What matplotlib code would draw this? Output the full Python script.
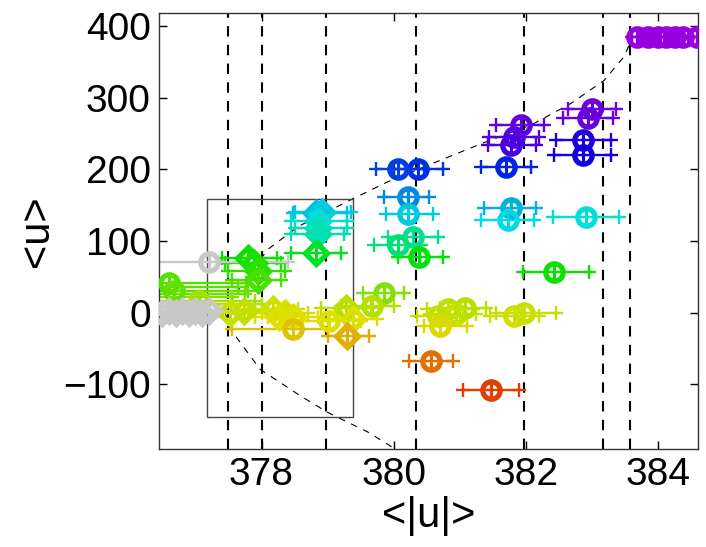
import colorsys
import matplotlib
matplotlib.use("Agg")
import matplotlib.pyplot as plt
from matplotlib.patches import Rectangle

plt.rcParams['font.family'] = ['Liberation Sans', 'DejaVu Sans']

# ---- data ----
# point positions <|u|>, <u>, horizontal error extent, hue (None = gray), marker kind
pt_x = [383.67, 383.85, 384.0, 384.12, 384.25, 384.38, 384.58,
        383.0, 382.94, 382.86, 382.86, 381.92, 381.82, 381.77, 381.7,
        380.06, 380.36, 380.21, 380.21, 381.77, 381.73, 382.91,
        380.29, 380.06, 380.38, 382.42, 379.85, 379.67,
        380.67, 380.82, 380.94, 381.08, 380.7, 381.82, 381.97,
        380.56, 381.47,
        378.82, 378.92, 378.86, 378.86, 378.86, 378.82,
        377.8, 377.88, 377.94, 377.94,
        377.2, 376.6, 376.67, 377.05, 376.2, 376.2, 376.2, 376.2,
        377.53, 377.73, 378.18, 378.36, 378.26, 378.48,
        378.47, 379.02, 379.27, 379.39, 379.3,
        376.5, 376.6, 376.7, 376.8, 376.9, 377.0, 377.1, 377.2]
pt_y = [384, 384, 384, 384, 384, 384, 384,
        284, 272, 241, 220, 262, 245, 234, 203,
        200, 200, 162, 138, 146, 130, 134,
        106, 95, 78, 57, 28, 9,
        -5, 5, -2, 7, -19, -5, 0,
        -68, -108,
        139, 141, 128, 118, 110, 83,
        77, 70, 58, 46,
        71, 42, 31, 16, 36, 26, 22, 12,
        0, 2, 5, 0, -6, -6,
        -23, -12, 7, -9, -33,
        0, 2, 0, 2, 0, 2, 0, 2]
err_lo = [383.6, 383.77, 383.92, 384.04, 384.17, 384.3, 384.5,
          382.64, 382.56, 382.45, 382.42, 381.55, 381.44, 381.42, 381.32,
          379.73, 380.0, 379.85, 379.88, 381.36, 381.32, 382.41,
          379.91, 379.7, 380.06, 381.95, 379.53, 379.2,
          380.35, 380.5, 380.55, 380.7, 380.45, 381.45, 381.55,
          380.23, 381.05,
          378.47, 378.5, 378.45, 378.5, 378.45, 378.44,
          377.41, 377.45, 377.5, 377.55,
          376.2, 375.9, 375.9, 376.2, 375.5, 375.5, 375.5, 375.5,
          377.2, 377.35, 377.8, 378.0, 377.9, 378.1,
          377.56, 378.62, 378.9, 379.0, 379.0,
          376.3, 376.4, 376.5, 376.6, 376.7, 376.8, 376.9, 377.0]
err_hi = [383.75, 383.93, 384.08, 384.2, 384.33, 384.46, 384.66,
          383.36, 383.32, 383.29, 383.29, 382.27, 382.2, 382.15, 382.08,
          380.45, 380.74, 380.53, 380.59, 382.15, 382.12, 383.41,
          380.67, 380.41, 380.74, 382.95, 380.15, 380.0,
          381.0, 381.2, 381.25, 381.4, 381.1, 382.2, 382.45,
          380.89, 381.9,
          379.3, 379.35, 379.3, 379.3, 379.25, 379.2,
          378.24, 378.3, 378.35, 378.3,
          378.4, 377.76, 377.8, 377.9, 377.65, 377.75, 377.55, 378.0,
          377.9, 378.1, 378.55, 378.7, 378.6, 378.85,
          379.0, 379.5, 379.65, 379.75, 379.62,
          376.7, 376.8, 376.9, 377.0, 377.1, 377.2, 377.3, 377.4]
pt_yerr = [10] * 74
pt_hue = [0.78] * 7 + [
          0.75, 0.745, 0.69, 0.68, 0.74, 0.73, 0.72, 0.64,
          0.62, 0.63, 0.565, 0.517, 0.535, 0.505, 0.495,
          0.44, 0.42, 0.34, 0.325, 0.236, 0.2,
          0.185, 0.19, 0.185, 0.195, 0.16, 0.18, 0.185,
          0.083, 0.047,
          0.525, 0.515, 0.49, 0.476, 0.458, 0.36,
          0.325, 0.315, 0.3, 0.28,
          None, 0.27, 0.26, 0.21, 0.265, 0.25, 0.235, 0.2,
          0.185, 0.19, 0.18, 0.175, 0.167, 0.167,
          0.143, 0.167, 0.195, 0.17, 0.13] + [None] * 8
pt_kind = (['circle'] * 37 + ['diamond'] * 10 + ['circle'] * 8 +
           ['diamond'] * 6 + ['circle', 'circle', 'diamond', 'diamond', 'diamond'] +
           ['diamond'] * 8)

# reference lines
vlines_x = [377.5, 378.0, 378.98, 380.33, 381.97, 383.17, 383.57]
box_x = [377.18, 379.39]
box_y = [-146, 159]
curve_up_x = [376.0, 377.45, 377.58, 378.09, 378.55, 379.35, 379.91, 380.82,
              381.36, 382.08, 382.68, 383.18, 383.48, 383.59]
curve_up_y = [0, 0, 22.7, 88, 120, 157.6, 182.6, 217, 237, 262, 292, 324, 357, 380]
curve_lo_x = [377.45, 377.53, 377.98, 378.59, 379.0, 379.6, 379.9, 380.05]
curve_lo_y = [0, -23, -79, -116, -139, -166, -183, -192]

xticks = [378, 380, 382, 384]
yticks = [-100, 0, 100, 200, 300, 400]

# ---- figure ----
fig = plt.figure(figsize=(7.06, 5.47), dpi=100)
ax = fig.add_axes([0.2252, 0.1792, 0.7635, 0.797])

for xv in vlines_x:
    ax.axvline(xv, color='black', lw=1.5, ls=(0, (5, 4)), zorder=1)
ax.plot(curve_up_x, curve_up_y, color='black', lw=0.8, ls=(0, (6, 6)), zorder=1)
ax.plot(curve_lo_x, curve_lo_y, color='black', lw=0.8, ls=(0, (6, 6)), zorder=1)
ax.add_patch(Rectangle((box_x[0], box_y[0]), box_x[1] - box_x[0], box_y[1] - box_y[0],
                       fill=False, edgecolor='#444444', lw=1.0, zorder=1))


def hue_color(h):
    if h is None:
        return '#c8c8c8'
    return colorsys.hsv_to_rgb(h, 1.0, 0.88)


marker_map = {'circle': ('o', 12.5), 'diamond': ('D', 11)}
for x, y, lo, hi, ye, h, k in zip(pt_x, pt_y, err_lo, err_hi, pt_yerr, pt_hue, pt_kind):
    c = hue_color(h)
    ax.plot([lo, hi], [y, y], color=c, lw=1.7, marker='+', ms=10, mew=1.7, zorder=2)
    ax.plot([x, x], [y - ye, y + ye], color=c, lw=2.2, zorder=2)
    m, ms = marker_map[k]
    ax.plot([x], [y], marker=m, ms=ms, mfc='none', mec=c, mew=3.8, zorder=3)
    ax.plot([x], [y], marker='+', ms=7, mew=1.5, color=c, zorder=3)

ax.set_xlim(376.45, 384.6)
ax.set_ylim(-190, 418)
ax.set_xticks(xticks)
ax.set_yticks(yticks)
ax.tick_params(direction='in', length=6, width=1, top=True, right=True,
               labelsize=28, colors='black', pad=6)
for s in ax.spines.values():
    s.set_color('#333333')
    s.set_linewidth(1.0)
ax.set_xlabel('<|u|>', fontsize=30, labelpad=2)
ax.set_ylabel('<u>', fontsize=30, labelpad=4)

fig.savefig('out.png', dpi=100)
